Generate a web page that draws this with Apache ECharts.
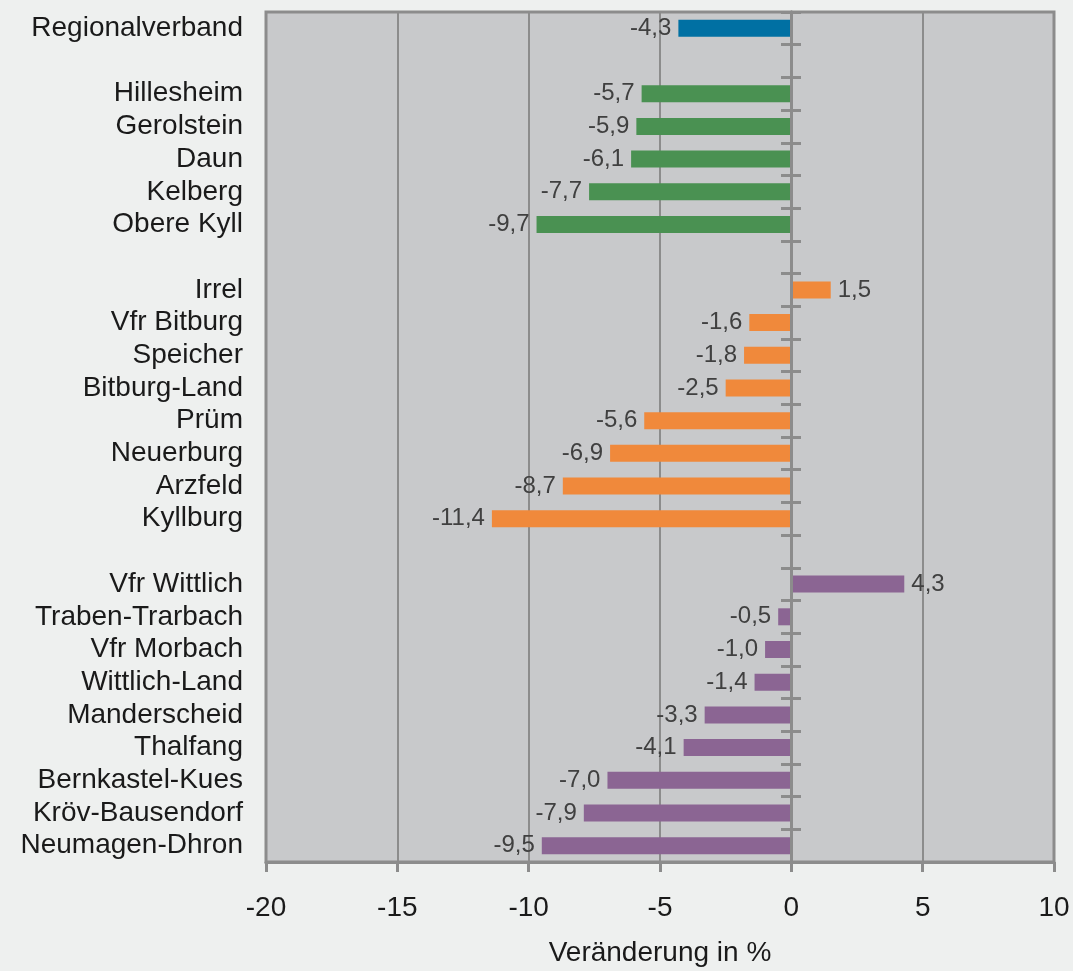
<!DOCTYPE html>
<html>
<head>
<meta charset="utf-8">
<script src="https://cdn.jsdelivr.net/npm/echarts@6/dist/echarts.min.js"></script>
<style>
  html, body { margin: 0; padding: 0; background: #eef0ef; }
  #chart { width: 1073px; height: 971px; }
</style>
</head>
<body>
<div id="chart"></div>
<script>
// rows top to bottom, '' = spacer row between groups
const categories = [
  'Regionalverband', '',
  'Hillesheim', 'Gerolstein', 'Daun', 'Kelberg', 'Obere Kyll', '',
  'Irrel', 'Vfr Bitburg', 'Speicher', 'Bitburg-Land', 'Prüm', 'Neuerburg', 'Arzfeld', 'Kyllburg', '',
  'Vfr Wittlich', 'Traben-Trarbach', 'Vfr Morbach', 'Wittlich-Land', 'Manderscheid', 'Thalfang',
  'Bernkastel-Kues', 'Kröv-Bausendorf', 'Neumagen-Dhron'
];
const values = [
  -4.3, null,
  -5.7, -5.9, -6.1, -7.7, -9.7, null,
  1.5, -1.6, -1.8, -2.5, -5.6, -6.9, -8.7, -11.4, null,
  4.3, -0.5, -1.0, -1.4, -3.3, -4.1, -7.0, -7.9, -9.5
];
const groups = [
  'region', null,
  'vulkaneifel', 'vulkaneifel', 'vulkaneifel', 'vulkaneifel', 'vulkaneifel', null,
  'bitburg', 'bitburg', 'bitburg', 'bitburg', 'bitburg', 'bitburg', 'bitburg', 'bitburg', null,
  'wittlich', 'wittlich', 'wittlich', 'wittlich', 'wittlich', 'wittlich', 'wittlich', 'wittlich', 'wittlich'
];
const groupColors = {
  region: '#0070a3',
  vulkaneifel: '#4a9152',
  bitburg: '#f0893b',
  wittlich: '#8b6593'
};

const gridLeft = 266, gridRight = 19;
const gridWidth = 1073 - gridLeft - gridRight;
const zeroOffset = -Math.round(gridWidth * 20 / 30);
const axisGray = '#8c8c8c';
const font = 'Liberation Sans, Arial, sans-serif';

const chart = echarts.init(document.getElementById('chart'));

const barData = values.map((v, i) => {
  if (v === null) return null;
  return {
    value: v,
    itemStyle: {color: groupColors[groups[i]]},
    label: {position: v < 0 ? 'left' : 'right'}
  };
});

// category axis drawn at x = 0, ticks crossing on both sides
const zeroAxis = (inside) => ({
  type: 'category',
  data: categories,
  inverse: true,
  position: 'left',
  offset: zeroOffset,
  z: 5,
  axisLine: {show: true, lineStyle: {color: axisGray, width: 3}},
  axisTick: {show: true, inside: inside, interval: 0, length: 10, lineStyle: {color: axisGray, width: 3}},
  axisLabel: {show: false},
  splitLine: {show: false}
});

chart.setOption({
  backgroundColor: '#eef0ef',
  animation: false,
  grid: {
    left: gridLeft, right: gridRight, top: 12, bottom: 109,
    outerBoundsMode: 'none',
    show: true,
    backgroundColor: '#c8c9cb',
    borderColor: axisGray,
    borderWidth: 3
  },
  xAxis: {
    type: 'value',
    min: -20,
    max: 10,
    interval: 5,
    name: 'Veränderung in %',
    nameLocation: 'middle',
    nameGap: 77,
    nameTextStyle: {fontSize: 28, color: '#1a1a1a', fontFamily: font},
    axisLine: {show: true, onZero: false, lineStyle: {color: axisGray, width: 3}},
    axisTick: {show: true, length: 10, lineStyle: {color: axisGray, width: 3}},
    axisLabel: {fontSize: 28, color: '#1a1a1a', fontFamily: font, margin: 32},
    splitLine: {show: true, lineStyle: {color: axisGray, width: 2}}
  },
  yAxis: [
    {
      type: 'category',
      data: categories,
      inverse: true,
      axisLine: {show: false},
      axisTick: {show: false},
      axisLabel: {
        interval: 0, fontSize: 28, color: '#1a1a1a', fontFamily: font, margin: 23,
        padding: [6, 0, 0, 0]
      }
    },
    zeroAxis(false),
    zeroAxis(true)
  ],
  series: [
    {
      type: 'bar',
      data: barData,
      barWidth: 17,
      label: {
        show: true,
        distance: 7,
        fontSize: 24,
        color: '#404040',
        fontFamily: font,
        padding: [4, 0, 0, 0],
        formatter: (p) => p.value.toFixed(1).replace('.', ',')
      }
    }
  ]
});
</script>
</body>
</html>
